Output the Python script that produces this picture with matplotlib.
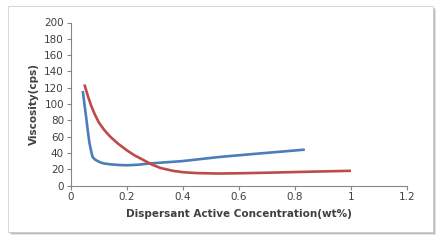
import matplotlib
matplotlib.use("Agg")
import matplotlib.pyplot as plt
from matplotlib.patches import Rectangle

# data
blue_x = [0.042, 0.048, 0.054, 0.060, 0.066, 0.072, 0.077, 0.085, 0.095, 0.107, 0.119,
          0.14, 0.17, 0.2, 0.24, 0.28, 0.34, 0.4, 0.53, 0.68, 0.835]
blue_y = [116, 100, 84, 67, 52, 42, 35, 32, 30, 28, 27,
          26, 25.2, 24.8, 25.5, 27, 28.5, 30, 35, 39.5, 44]

red_x = [0.048, 0.06, 0.072, 0.084, 0.1, 0.119, 0.14, 0.167, 0.2, 0.227, 0.26,
         0.29, 0.32, 0.364, 0.4, 0.45, 0.53, 0.6, 0.7, 0.8, 0.9, 1.0]
red_y = [124, 110, 98, 88, 77, 68, 60, 51.6, 43, 37, 31,
         25.5, 21.5, 18, 16.3, 15.2, 14.7, 15, 15.7, 16.5, 17.3, 18]

xticks = [0, 0.2, 0.4, 0.6, 0.8, 1, 1.2]
xtick_labels = ["0", "0.2", "0.4", "0.6", "0.8", "1", "1.2"]
yticks = [0, 20, 40, 60, 80, 100, 120, 140, 160, 180, 200]

W, H = 441, 244
fig = plt.figure(figsize=(W / 100, H / 100), dpi=100)
fig.patch.set_facecolor("white")

# card with drop shadow
for i, a in enumerate([0.10, 0.18, 0.28]):
    off = 3 - i
    fig.patches.append(Rectangle(((8 + off) / W, (12 - off) / H), 425 / W, 226 / H,
                                 transform=fig.transFigure, facecolor="black",
                                 alpha=a, edgecolor="none", zorder=0))
fig.patches.append(Rectangle((8 / W, 12 / H), 425 / W, 226 / H,
                             transform=fig.transFigure, facecolor="white",
                             edgecolor="#d0d0d0", linewidth=0.6, zorder=1))

ax = fig.add_axes([71 / W, (244 - 185.5) / H, 336 / W, 163 / H])
ax.set_facecolor("none")
ax.set_zorder(2)

ax.plot(blue_x, blue_y, color="#4A7EBB", lw=1.9, solid_capstyle="butt",
        solid_joinstyle="round")
ax.plot(red_x, red_y, color="#BE4B48", lw=1.9, solid_capstyle="butt",
        solid_joinstyle="round")

ax.set_xlim(0, 1.2)
ax.set_ylim(0, 200)
ax.set_xticks(xticks)
ax.set_xticklabels(xtick_labels)
ax.set_yticks(yticks)

for s in ["top", "right"]:
    ax.spines[s].set_visible(False)
for s in ["left", "bottom"]:
    ax.spines[s].set_color("#868686")
    ax.spines[s].set_linewidth(0.8)
ax.tick_params(direction="out", length=3, width=0.8, color="#868686",
               labelsize=7.5, labelcolor="#404040", pad=2)

ax.set_xlabel("Dispersant Active Concentration(wt%)", fontsize=7.5,
              fontweight="bold", color="#404040", labelpad=5)
ax.set_ylabel("Viscosity(cps)", fontsize=7.5, fontweight="bold",
              color="#404040", labelpad=4)

fig.savefig("out.png", dpi=100)
